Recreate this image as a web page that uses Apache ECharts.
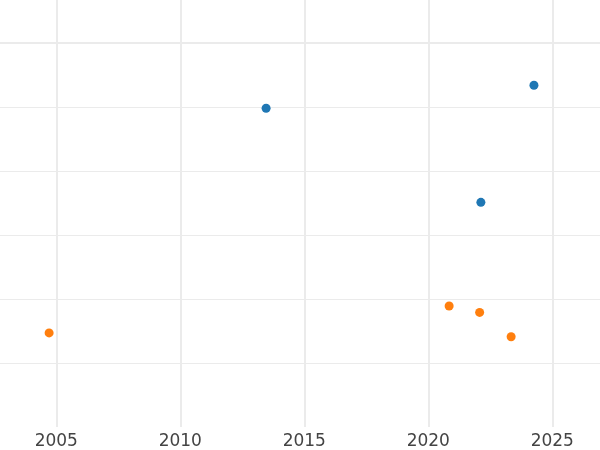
<!DOCTYPE html>
<html>
<head>
<meta charset="utf-8">
<script src="https://cdn.jsdelivr.net/npm/echarts@6/dist/echarts.min.js"></script>
<style>html,body{margin:0;padding:0;background:#fff}#c{width:600px;height:450px}</style>
</head>
<body>
<div id="c"></div>
<script>
// Data (x = year, y = value on an inverted axis)
const blueYears = [2013.46, 2024.26, 2022.12];
const blueValues = [1.02, 0.66, 2.49];
const orangeYears = [2004.71, 2020.84, 2022.07, 2023.34];
const orangeValues = [4.53, 4.11, 4.21, 4.59];
const xTicks = [2005, 2010, 2015, 2020, 2025];

const chart = echarts.init(document.getElementById('c'), null, {renderer: 'canvas'});
const grid = '#ebebeb';
chart.setOption({
  animation: false,
  backgroundColor: '#ffffff',
  grid: {left: -67.7, width: 744, top: -21, height: 448, containLabel: false, outerBoundsMode: 'none'},
  xAxis: {
    type: 'value', min: 2000, max: 2030, interval: 5,
    axisLine: {show: false}, axisTick: {show: false},
    axisLabel: {color: '#444', fontSize: 17, fontFamily: 'DejaVu Sans', margin: 6,
      formatter: v => xTicks.includes(v) ? String(v) : ''},
    splitLine: {show: true, lineStyle: {color: grid, width: 2}}
  },
  yAxis: {
    type: 'value', min: -1, max: 6, interval: 1, inverse: true,
    axisLine: {show: false}, axisTick: {show: false}, axisLabel: {show: false},
    splitLine: {show: true, lineStyle: {color: ['none', 'none', grid, grid, grid, grid, grid, 'none'], width: 1}}
  },
  series: [
    {type: 'scatter', symbolSize: 9, itemStyle: {color: '#1f77b4', opacity: 1},
     data: blueYears.map((x, i) => [x, blueValues[i]]),
     markLine: {silent: true, symbol: 'none', label: {show: false},
       lineStyle: {color: grid, width: 2, type: 'solid'}, data: [{yAxis: 0}]}},
    {type: 'scatter', symbolSize: 9, itemStyle: {color: '#ff7f0e', opacity: 1},
     data: orangeYears.map((x, i) => [x, orangeValues[i]])}
  ]
});
</script>
</body>
</html>
